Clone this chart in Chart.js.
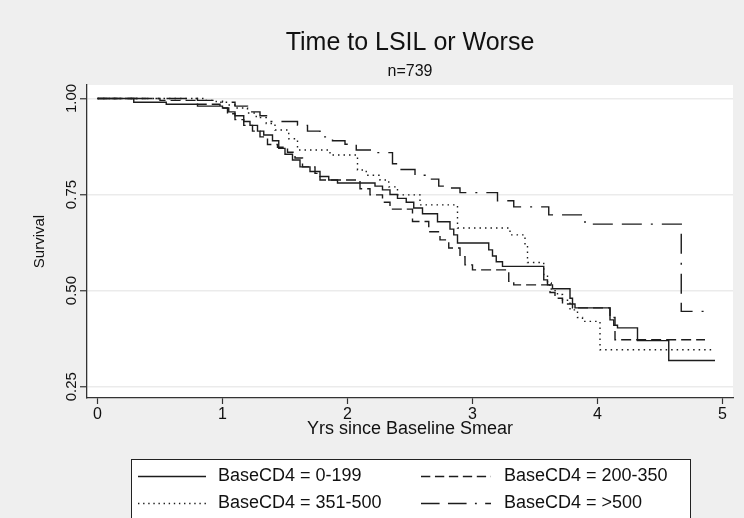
<!DOCTYPE html>
<html>
<head>
<meta charset="utf-8">
<script src="https://cdn.jsdelivr.net/npm/chart.js@4.4.1/dist/chart.umd.min.js"></script>
<style>
  html, body { margin: 0; padding: 0; background: #efefef; }
  canvas { display: block; }
</style>
</head>
<body>
<canvas id="kmChart" width="744" height="518"></canvas>
<script>
const chartTitle = 'Time to LSIL or Worse';
const chartSubtitle = 'n=739';
const xTitle = 'Yrs since Baseline Smear';
const yTitle = 'Survival';

const groupLabels = ['BaseCD4 = 0-199', 'BaseCD4 = 200-350', 'BaseCD4 = 351-500', 'BaseCD4 = >500'];

// Kaplan-Meier steps: event time (yrs) and survival just after it
const cd4Low_t = [0, 0.29, 0.55, 0.8, 1.0, 1.05, 1.1, 1.17, 1.22, 1.28, 1.33, 1.4, 1.45, 1.5, 1.56, 1.62, 1.7, 1.78, 1.85, 1.92, 2.22, 2.28, 2.34, 2.4, 2.47, 2.53, 2.6, 2.72, 2.82, 2.85, 2.88, 3.13, 3.16, 3.19, 3.24, 3.57, 3.6, 3.64, 3.78, 3.8, 3.82, 4.1, 4.13, 4.16, 4.32, 4.57, 4.94];
const cd4Low_s = [1, 0.99, 0.985, 0.98, 0.975, 0.965, 0.955, 0.94, 0.93, 0.915, 0.905, 0.89, 0.87, 0.855, 0.84, 0.822, 0.81, 0.797, 0.788, 0.78, 0.772, 0.762, 0.75, 0.74, 0.73, 0.715, 0.70, 0.679, 0.66, 0.645, 0.624, 0.606, 0.59, 0.575, 0.563, 0.528, 0.515, 0.505, 0.48, 0.465, 0.455, 0.424, 0.41, 0.403, 0.37, 0.318, 0.318];

const cd4Mid_t = [0, 0.5, 0.8, 0.98, 1.04, 1.1, 1.17, 1.24, 1.3, 1.36, 1.44, 1.52, 1.58, 1.64, 1.74, 1.78, 2.1, 2.18, 2.28, 2.34, 2.52, 2.65, 2.74, 2.81, 2.9, 2.94, 3.0, 3.29, 3.33, 3.62, 3.66, 3.72, 3.8, 4.1, 4.14, 4.86];
const cd4Mid_s = [1, 0.995, 0.985, 0.975, 0.96, 0.945, 0.93, 0.915, 0.9, 0.88, 0.873, 0.86, 0.845, 0.822, 0.805, 0.788, 0.765, 0.749, 0.73, 0.712, 0.68, 0.653, 0.632, 0.611, 0.588, 0.567, 0.554, 0.524, 0.515, 0.495, 0.48, 0.465, 0.455, 0.43, 0.372, 0.372];

const cd4High_t = [0, 0.85, 0.95, 1.04, 1.1, 1.2, 1.27, 1.35, 1.42, 1.53, 1.6, 1.86, 2.08, 2.15, 2.26, 2.33, 2.4, 2.58, 2.88, 3.3, 3.42, 3.44, 3.57, 3.6, 3.63, 3.68, 3.72, 3.78, 3.84, 3.88, 4.02, 4.93];
const cd4High_s = [1, 0.995, 0.99, 0.983, 0.975, 0.962, 0.95, 0.935, 0.918, 0.895, 0.866, 0.853, 0.814, 0.80, 0.788, 0.77, 0.749, 0.723, 0.663, 0.645, 0.62, 0.573, 0.54, 0.52, 0.50, 0.49, 0.475, 0.45, 0.43, 0.42, 0.346, 0.346];

const cd4Top_t = [0, 0.8, 1.0, 1.1, 1.2, 1.3, 1.38, 1.6, 1.68, 1.78, 1.88, 1.98, 2.07, 2.2, 2.36, 2.42, 2.54, 2.62, 2.73, 2.81, 2.9, 3.2, 3.33, 3.61, 3.9, 4.67, 4.92];
const cd4Top_s = [1, 0.995, 0.99, 0.98, 0.965, 0.955, 0.94, 0.93, 0.915, 0.90, 0.89, 0.881, 0.866, 0.859, 0.83, 0.815, 0.80, 0.79, 0.772, 0.767, 0.755, 0.734, 0.718, 0.697, 0.673, 0.446, 0.446];

const xTicks = [0, 1, 2, 3, 4, 5];
const yTicks = [0.25, 0.50, 0.75, 1.00];

const toPoints = (t, s) => t.map((x, i) => ({ x: x, y: s[i] }));

const fontFamily = '"Liberation Sans", Arial, sans-serif';
const lineColor = '#1c1c1c';
const dashes = [[], [10, 5], [1.5, 4], [20, 9, 20, 9, 2, 9]];
const series = [
  toPoints(cd4Low_t, cd4Low_s),
  toPoints(cd4Mid_t, cd4Mid_s),
  toPoints(cd4High_t, cd4High_s),
  toPoints(cd4Top_t, cd4Top_s),
];

// grey page, white plot region, titles, rotated y labels and the boxed legend
const stataFrame = {
  id: 'stataFrame',
  beforeDraw(chart) {
    const { ctx, chartArea: a } = chart;
    ctx.save();
    ctx.fillStyle = '#efefef';
    ctx.fillRect(0, 0, chart.width, chart.height);
    ctx.fillStyle = '#ffffff';
    ctx.fillRect(a.left, a.top, a.right - a.left, a.bottom - a.top);
    ctx.restore();
  },
  afterDraw(chart) {
    const { ctx, chartArea: a } = chart;
    const yScale = chart.scales.y;
    const cx = (a.left + a.right) / 2;
    ctx.save();
    ctx.fillStyle = '#111';
    ctx.textAlign = 'center';
    ctx.textBaseline = 'middle';
    ctx.font = '25px ' + fontFamily;
    ctx.fillText(chartTitle, cx, 43);
    ctx.font = '16px ' + fontFamily;
    ctx.fillText(chartSubtitle, cx, 72);

    ctx.font = '15px ' + fontFamily;
    yTicks.forEach((v) => {
      ctx.save();
      ctx.translate(72, yScale.getPixelForValue(v));
      ctx.rotate(-Math.PI / 2);
      ctx.fillText(v.toFixed(2), 0, 0);
      ctx.restore();
    });

    // legend, centred under the plot
    const boxW = 559;
    const boxL = Math.round(cx - boxW / 2);
    ctx.fillStyle = '#ffffff';
    ctx.fillRect(boxL, 459, boxW, 70);
    ctx.strokeStyle = '#222';
    ctx.lineWidth = 1;
    ctx.strokeRect(boxL + 0.5, 459.5, boxW, 70);
    const sampleX = [boxL + 7, boxL + 290];
    const sampleLen = [68, 70];
    const textX = [boxL + 87, boxL + 373];
    const rowY = [476, 503];
    ctx.font = '18px ' + fontFamily;
    ctx.textAlign = 'left';
    chart.data.datasets.forEach((ds, i) => {
      const col = i % 2;
      const row = Math.floor(i / 2);
      const y = rowY[row];
      ctx.strokeStyle = lineColor;
      ctx.lineWidth = 1.4;
      ctx.setLineDash((ds.borderDash || []).map((d) => d * 0.93));
      ctx.beginPath();
      ctx.moveTo(sampleX[col], y + 0.5);
      ctx.lineTo(sampleX[col] + sampleLen[col], y + 0.5);
      ctx.stroke();
      ctx.setLineDash([]);
      ctx.fillStyle = '#111';
      ctx.fillText(ds.label, textX[col], y);
    });
    ctx.restore();
  }
};

new Chart(document.getElementById('kmChart'), {
  type: 'line',
  data: {
    datasets: series.map((pts, i) => ({
      label: groupLabels[i],
      data: pts,
      stepped: 'before',
      borderColor: lineColor,
      borderWidth: 1.4,
      borderDash: dashes[i],
      pointRadius: 0,
      fill: false,
    })),
  },
  options: {
    responsive: false,
    animation: false,
    devicePixelRatio: 1,
    layout: { padding: { top: 85, right: 11, bottom: 78, left: 0 } },
    plugins: {
      legend: { display: false },
      tooltip: { enabled: false },
    },
    scales: {
      x: {
        type: 'linear',
        min: -0.084,
        max: 5.084,
        afterBuildTicks: (scale) => { scale.ticks = xTicks.map((v) => ({ value: v })); },
        afterFit: (scale) => { scale.height = 42; },
        ticks: {
          color: '#111',
          padding: 1,
          maxRotation: 0,
          font: { family: fontFamily, size: 16 },
          callback: (v) => String(v),
        },
        grid: { drawOnChartArea: false, drawTicks: true, tickLength: 6, tickColor: '#333', tickWidth: 1.2 },
        border: { display: true, color: '#333', width: 1.3 },
        title: {
          display: true,
          text: xTitle,
          color: '#111',
          padding: { top: 0, bottom: 0 },
          font: { family: fontFamily, size: 18 },
        },
      },
      y: {
        type: 'linear',
        min: 0.2206,
        max: 1.035,
        afterBuildTicks: (scale) => { scale.ticks = yTicks.map((v) => ({ value: v })); },
        afterFit: (scale) => { scale.width = 87; },
        ticks: { display: false },
        grid: { color: '#ebebeb', lineWidth: 1.5, drawTicks: true, tickLength: 7, tickColor: '#333', tickWidth: 1.2 },
        border: { display: true, color: '#333', width: 1.3 },
        title: {
          display: true,
          text: yTitle,
          color: '#111',
          padding: { top: 31, bottom: 0 },
          font: { family: fontFamily, size: 15 },
        },
      },
    },
  },
  plugins: [stataFrame],
});
</script>
</body>
</html>
